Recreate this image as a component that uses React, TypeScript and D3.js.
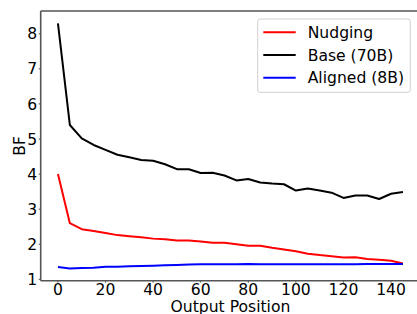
import * as d3 from "d3";

const positions = [0, 5, 10, 15, 20, 25, 30, 35, 40, 45, 50, 55, 60, 65, 70, 75, 80, 85, 90, 95, 100, 105, 110, 115, 120, 125, 130, 135, 140, 145];

const nudging = [4.0, 2.6, 2.43, 2.38, 2.32, 2.26, 2.23, 2.2, 2.16, 2.14, 2.11, 2.11, 2.08, 2.04, 2.04, 2.0, 1.96, 1.96, 1.9, 1.85, 1.8, 1.73, 1.69, 1.66, 1.62, 1.63, 1.58, 1.56, 1.53, 1.45];
const base70b = [8.3, 5.4, 5.02, 4.83, 4.69, 4.55, 4.48, 4.4, 4.38, 4.28, 4.14, 4.14, 4.03, 4.04, 3.96, 3.82, 3.86, 3.76, 3.73, 3.71, 3.53, 3.59, 3.53, 3.47, 3.32, 3.39, 3.39, 3.29, 3.44, 3.49];
const aligned8b = [1.35, 1.31, 1.32, 1.33, 1.36, 1.36, 1.37, 1.38, 1.39, 1.4, 1.41, 1.42, 1.43, 1.43, 1.43, 1.43, 1.44, 1.43, 1.43, 1.43, 1.43, 1.43, 1.43, 1.43, 1.43, 1.43, 1.44, 1.44, 1.44, 1.44];

const xTicks = [0, 20, 40, 60, 80, 100, 120, 140];
const yTicks = [1, 2, 3, 4, 5, 6, 7, 8];

const seriesNames = ["Nudging", "Base (70B)", "Aligned (8B)"];
const seriesColors = ["#ff0000", "#000000", "#0000ff"];

const W = 417;
const H = 314;
const margin = { top: 11, left: 40.7, bottom: 33.3 };
const plotRight = 420.2;
const font = "DejaVu Sans, sans-serif";
const fs = 15.6;

export default function App() {
  const all = [...nudging, ...base70b, ...aligned8b];
  const yMin = d3.min(all) as number;
  const yMax = d3.max(all) as number;
  const yPad = (yMax - yMin) * 0.05;
  const xPad = (d3.max(positions)! - d3.min(positions)!) * 0.05;

  const x = d3.scaleLinear()
    .domain([d3.min(positions)! - xPad, d3.max(positions)! + xPad])
    .range([margin.left, plotRight]);
  const y = d3.scaleLinear()
    .domain([yMin - yPad, yMax + yPad])
    .range([H - margin.bottom, margin.top]);

  const line = d3.line<number>()
    .x((_, i) => x(positions[i]))
    .y(d => y(d));

  const series = [nudging, base70b, aligned8b];
  const spine = "#555";
  const bottom = H - margin.bottom;

  return (
    <svg width={W} height={H} style={{ position: "fixed", left: 0, top: 0, overflow: "hidden" }} fontFamily={font}>
      <rect width={W} height={H} fill="white" />
      {series.map((s, i) => (
        <path key={i} d={line(s) ?? ""} fill="none" stroke={seriesColors[i]} strokeWidth={2} strokeLinejoin="round" />
      ))}

      {/* spines */}
      <g stroke={spine} strokeWidth={1.6} fill="none">
        <line x1={margin.left} x2={margin.left} y1={margin.top} y2={bottom} />
        <line x1={margin.left} x2={plotRight} y1={bottom} y2={bottom} />
        <line x1={margin.left} x2={plotRight} y1={margin.top} y2={margin.top} />
        <line x1={plotRight} x2={plotRight} y1={margin.top} y2={bottom} />
      </g>

      {/* x axis */}
      {xTicks.map(t => (
        <g key={t} transform={`translate(${x(t)},${bottom})`}>
          <line y1={0} y2={2} stroke={spine} strokeWidth={1} />
          <text y={14.3} textAnchor="middle" fontSize={fs} fill="#000">{t}</text>
        </g>
      ))}
      <text x={(margin.left + plotRight) / 2} y={311.5} textAnchor="middle" fontSize={fs} fill="#000">Output Position</text>

      {/* y axis */}
      {yTicks.map(t => (
        <g key={t} transform={`translate(${margin.left},${y(t)})`}>
          <line x1={0} x2={-2} stroke={spine} strokeWidth={1} />
          <text x={-3.5} dy="0.36em" textAnchor="end" fontSize={fs} fill="#000">{t}</text>
        </g>
      ))}
      <text transform={`translate(24.5,${(margin.top + bottom) / 2}) rotate(-90)`} textAnchor="middle" fontSize={fs} fill="#000">BF</text>

      {/* legend */}
      <g>
        <rect x={257.7} y={19} width={152.6} height={73.3} rx={2.5} fill="white" fillOpacity={0.8} stroke="#d0d0d0" strokeWidth={1} />
        {seriesNames.map((name, i) => (
          <g key={name} transform={`translate(0,${32.3 + i * 22.7})`}>
            <line x1={263.3} x2={295.7} stroke={seriesColors[i]} strokeWidth={2} />
            <text x={307.7} dy="0.36em" fontSize={fs} fill="#000">{name}</text>
          </g>
        ))}
      </g>
    </svg>
  );
}
